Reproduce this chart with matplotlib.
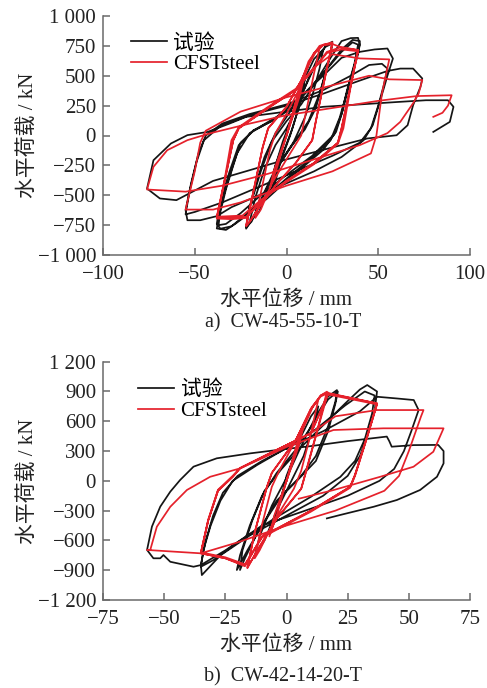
import numpy as np
import matplotlib
matplotlib.use("Agg")
import matplotlib.pyplot as plt

plt.rcParams['font.family'] = ['Liberation Serif', 'Noto Sans CJK SC', 'DejaVu Sans']
plt.rcParams['axes.unicode_minus'] = True

# ---------------- data ----------------
series_names = ['试验', 'CFSTsteel']
captions = ['a)  CW-45-55-10-T', 'b)  CW-42-14-20-T']
xlabel = '水平位移 / mm'
ylabel = '水平荷载 / kN'

a_xticks = [-100, -50, 0, 50, 100]
a_xticklabels = ['\u2212100', '\u221250', '0', '50', '100']
a_yticks = [-1000, -750, -500, -250, 0, 250, 500, 750, 1000]
a_yticklabels = ['\u22121 000', '\u2212750', '\u2212500', '\u2212250', '0', '250', '500', '750', '1 000']

b_xticks = [-75, -50, -25, 0, 25, 50, 75]
b_xticklabels = ['\u221275', '\u221250', '\u221225', '0', '25', '50', '75']
b_yticks = [-1200, -900, -600, -300, 0, 300, 600, 900, 1200]
b_yticklabels = ['\u22121 200', '\u2212900', '\u2212600', '\u2212300', '0', '300', '600', '900', '1 200']

# test curve, specimen a (displacement mm, load kN)
a_test = [
    (0, 0), (4, 200), (8, 420), (10, 480), (8, 300), (3, 50), (-2, -150), (-6, -380), (-9, -470),
    (-7, -300), (-2, -50), (3, 150), (8, 380), (10, 470), (7, 250), (2, 0), (-4, -250), (-9, -470),
    (-6, -250), (0, 0),
    (5, 250), (10, 480), (15, 640), (20, 720), (18, 560), (14, 330), (10, 150), (4, -50), (-4, -250),
    (-10, -460), (-15, -640), (-20, -720), (-17, -520), (-12, -280), (-6, -80), (0, 60),
    (6, 240), (12, 480), (18, 680), (22, 760), (25, 785), (24, 680), (20, 450), (16, 230), (10, 50),
    (2, -100), (-6, -280), (-12, -470), (-18, -680), (-22, -780), (-21, -650), (-17, -420), (-12, -180),
    (-6, 20), (2, 200), (10, 400), (16, 600), (21, 740), (25, 770), (23, 620), (18, 350), (12, 120),
    (4, -60), (-6, -290), (-13, -520), (-19, -720), (-22, -770), (-20, -600), (-14, -300), (-8, -50),
    (0, 120),
    (8, 260), (16, 450), (24, 650), (30, 790), (35, 815), (39, 817), (40, 756), (37, 588), (33, 360),
    (31, 226), (27, 30), (20, -120), (10, -250), (0, -380), (-10, -520), (-20, -650), (-28, -740),
    (-33, -790), (-38, -778), (-37, -700), (-33, -450), (-29, -250), (-25, -60), (-18, 44), (-8, 120),
    (2, 220), (12, 380), (22, 560), (30, 720), (36, 800), (40, 790), (39, 680), (34, 420), (29, 150),
    (24, -40), (12, -210), (0, -360), (-12, -520), (-22, -660), (-30, -760), (-36, -780), (-38, -740),
    (-36, -550), (-31, -300), (-26, -80), (-18, 40), (-5, 160), (8, 320), (20, 520), (30, 700),
    (36, 780), (39, 760), (37, 600), (33, 380), (30, 180), (26, 10), (14, -170), (0, -330),
    (-14, -500), (-25, -650), (-33, -740), (-37, -750), (-36, -600), (-32, -380), (-27, -150),
    (-20, 20), (-6, 140), (8, 330),
    (20, 500), (30, 650), (40, 700), (48, 720), (55, 728), (58, 644), (55, 500), (53, 393), (47, 86),
    (42, -40), (30, -180), (15, -300), (0, -400), (-15, -500), (-30, -600), (-38, -675), (-47, -709),
    (-54, -709), (-55, -625), (-52, -400), (-48, -150), (-44, 0), (-35, 100), (-20, 180), (0, 260),
    (20, 380), (35, 500), (45, 590), (52, 600), (55, 560), (53, 420), (50, 250), (46, 60), (40, -60),
    (25, -170), (5, -300), (-15, -430), (-35, -560), (-50, -640), (-55, -660), (-53, -480),
    (-49, -220), (-45, -40), (-36, 80), (-20, 170), (0, 250),
    (20, 350), (40, 460), (55, 540), (62, 560), (69, 560), (74, 477), (73, 407), (69, 254), (66, 86),
    (60, 2), (44, -25), (25, -100), (0, -200), (-20, -290), (-40, -380), (-55, -500), (-60, -541),
    (-69, -527), (-76, -444), (-72.5, -207), (-63, -67), (-54, 3), (-43, 30), (-31, 100), (-22, 156),
    (0, 200), (20, 240), (40, 260), (60, 280), (76, 295), (88, 295), (91, 240), (89, 114), (80, 30),
]

# model curve, specimen a
a_model = [
    (0, 0), (5, 280), (9, 450), (7, 320), (0, 0), (-5, -260), (-9, -440), (-7, -300), (0, 0),
    (6, 330), (12, 590), (16, 700), (18, 730), (15, 520), (10, 150), (8, 0), (0, -200), (-8, -400),
    (-14, -620), (-17, -690), (-14, -480), (-9, -120), (-6, 20), (0, 180),
    (6, 360), (12, 620), (18, 750), (25, 780), (22, 560), (16, 120), (14, -40), (5, -230), (-5, -400),
    (-14, -580), (-20, -720), (-22, -760), (-19, -540), (-13, -100), (-10, 60), (0, 240), (8, 460),
    (15, 690), (20, 760), (25, 770), (22, 560), (16, 120), (14, -40), (5, -230), (-5, -400),
    (-14, -580), (-20, -720), (-22, -750), (-19, -540), (-13, -100), (-10, 60), (0, 240), (8, 460),
    (15, 690), (20, 755), (25, 765),
    (29, 743), (39, 715), (35, 420), (30, 60), (28, -60), (15, -230), (0, -380), (-12, -520),
    (-22, -690), (-30, -700), (-38, -695), (-34, -400), (-29, -40), (-26, 60), (-10, 230), (5, 380),
    (15, 560), (22, 700), (29, 735), (39, 715), (35, 420), (30, 60), (28, -60), (15, -230), (0, -380),
    (-12, -520), (-22, -680), (-38, -690), (-34, -400), (-29, -40), (-26, 60), (-10, 230), (5, 380),
    (15, 560), (22, 690), (30, 720), (39, 705), (35, 410), (31, 60), (28, -70), (15, -240),
    (0, -390), (-14, -540), (-24, -670), (-38, -680), (-34, -390), (-30, -40), (-26, 70), (-10, 240),
    (5, 390), (15, 570), (25, 680), (40, 645),
    (56, 637), (52, 350), (49, 0), (46, -150), (25, -300), (0, -420), (-25, -560), (-40, -620),
    (-55, -620), (-50, -300), (-47, -60), (-44, 40), (-25, 200), (0, 320), (25, 420), (45, 500),
    (56, 470), (74, 464),
    (72, 350), (69, 270), (62, 114), (55, 20), (40, -80), (15, -200), (-10, -320), (-35, -420),
    (-55, -470), (-76, -452), (-72.5, -262), (-65, -123), (-54, -39), (-42, 17), (-20, 100), (0, 170),
    (29, 240), (50, 290), (71, 330), (90, 337), (88, 250), (85, 190), (80, 156),
]

# test curve, specimen b
b_test = [
    (0, 0), (3, 250), (6, 480), (4, 300), (0, 50), (-3, -250), (-6, -480), (-4, -300), (0, 0),
    (5, 400), (10, 650), (13, 750), (11, 550), (7, 250), (2, 0), (-4, -300), (-9, -600), (-13, -760),
    (-11, -560), (-6, -250), (0, 30),
    (6, 350), (12, 650), (17, 850), (20.6, 914), (20, 800), (17, 550), (12, 250), (6, 50), (-2, -150),
    (-10, -450), (-16, -700), (-20.3, -898), (-19, -750), (-15, -450), (-10, -150), (-4, 80), (4, 320),
    (11, 580), (17, 820), (21, 900), (20, 780), (17, 500), (12, 200), (5, 20), (-4, -200), (-12, -530),
    (-17, -780), (-19, -898), (-18, -700), (-14, -400), (-9, -100), (-2, 120),
    (6, 340), (15, 560), (24, 780), (30, 920), (33, 965), (37, 900), (36, 700), (33, 450), (30, 250),
    (25, 50), (15, -150), (0, -350), (-15, -550), (-27, -750), (-34.6, -949), (-35, -848), (-33, -600),
    (-30, -350), (-26, -120), (-20, 50), (-10, 200), (0, 330), (12, 520), (24, 760), (32, 900),
    (36, 860), (35, 680), (32, 420), (28, 200), (22, 40), (10, -160), (-5, -380), (-20, -620),
    (-30, -800), (-35, -865), (-34, -700), (-31, -450), (-27, -200), (-22, 0), (-12, 160),
    (0, 330), (15, 500), (30, 700), (37, 847), (45, 830), (52, 814), (54, 713), (51, 500), (48, 300),
    (44, 120), (38, 0), (25, -150), (10, -280), (-10, -450), (-25, -700),
    (-35, -848), (-38, -865), (-47.5, -815), (-50.3, -747), (-51.6, -780), (-54.4, -780), (-57, -696),
    (-55, -461), (-51.6, -260), (-47.5, -109), (-43.5, 8), (-38, 143), (-28.5, 227), (-14.8, 277),
    (-4, 310), (10, 350), (25, 400), (41, 446), (42, 400), (43, 344), (52, 360), (62, 362),
    (64.2, 300), (64.2, 176), (61.5, 41), (54.6, -92),
    (45.1, -193), (35.6, -261), (21.9, -344), (16.5, -378),
]

# model curve, specimen b
b_model = [
    (0, 0), (4, 350), (7, 560), (5, 350), (0, 0), (-4, -350), (-7, -560), (-5, -350), (0, 0),
    (6, 480), (11, 760), (13, 820), (10, 480), (6, 100), (3, -80), (-5, -400), (-11, -700),
    (-13, -780), (-10, -440), (-6, -60), (-3, 100),
    (4, 420), (10, 720), (14, 860), (16.5, 898), (13, 550), (8, 100), (6, -80), (-4, -380),
    (-12, -700), (-16, -880), (-13, -520), (-8, -60), (-6, 80), (4, 420), (10, 730), (14, 860),
    (17, 890), (13, 540), (8, 90), (6, -80), (-4, -380), (-12, -710), (-16, -870), (-13, -520),
    (-8, -60), (-6, 80), (4, 420), (10, 720), (14, 850), (17, 885),
    (37, 780), (33, 450), (28, 60), (26, -60), (10, -300), (-10, -560), (-17, -860), (-25, -780),
    (-35, -730), (-32, -400), (-28, -100), (-22, 40), (-19, 126), (-5, 300), (10, 480), (17, 880),
    (37, 780), (33, 450), (28, 60), (26, -60), (10, -300), (-10, -560), (-17, -850), (-25, -780),
    (-35, -730), (-32, -400), (-28, -100), (-22, 40), (-19, 126), (-5, 300), (10, 480), (17, 870),
    (37, 770), (33, 440), (28, 50), (26, -70), (10, -310), (-10, -570), (-17, -840), (-25, -770),
    (-35, -720), (-32, -390), (-28, -90), (-22, 50), (-19, 130), (-5, 300), (10, 480), (20, 650),
    (37, 713),
    (56, 713), (55, 650), (50, 300), (46, 50), (40, -100), (20, -300), (0, -450), (-20, -620),
    (-35, -730), (-57, -696), (-55.7, -697), (-53, -462), (-47.5, -261), (-40.7, -92), (-31.2, 41),
    (-18.9, 126), (0.2, 343), (19.2, 512), (39.6, 529), (64.2, 529), (60, 293), (51.9, 142),
    (38.3, 41), (19.2, -93), (5, -180),
]

# ---------------- drawing ----------------
W, H = 487, 688
fig = plt.figure(figsize=(W / 100, H / 100), dpi=100)

black = '#151515'
red = '#e5212b'
spine_c = '#6a6a6a'
fs = 15

panels = [
    dict(rect=[103 / W, 1 - 255 / H, 367 / W, 239 / H], test=a_test, model=a_model,
         xlim=(-100, 100), ylim=(-1000, 1000), xt=a_xticks, xtl=a_xticklabels,
         yt=a_yticks, ytl=a_yticklabels, cap=captions[0], capy=323, leg=(0.075, 0.925)),
    dict(rect=[103 / W, 1 - 600 / H, 367 / W, 238.3 / H], test=b_test, model=b_model,
         xlim=(-75, 75), ylim=(-1200, 1200), xt=b_xticks, xtl=b_xticklabels,
         yt=b_yticks, ytl=b_yticklabels, cap=captions[1], capy=677, leg=(0.095, 0.92)),
]

for p in panels:
    ax = fig.add_axes(p['rect'])
    t = np.array(p['test'], dtype=float)
    m = np.array(p['model'], dtype=float)
    ax.plot(t[:, 0], t[:, 1], color=black, lw=1.25, label=series_names[0], zorder=2)
    ax.plot(m[:, 0], m[:, 1], color=red, lw=1.25, label=series_names[1], zorder=3)
    ax.set_xlim(*p['xlim'])
    ax.set_ylim(*p['ylim'])
    ax.set_xticks(p['xt'])
    ax.set_xticklabels(p['xtl'])
    ax.set_yticks(p['yt'])
    ax.set_yticklabels(p['ytl'])
    for s in ['top', 'right']:
        ax.spines[s].set_visible(False)
    for s in ['left', 'bottom']:
        ax.spines[s].set_color(spine_c)
        ax.spines[s].set_linewidth(1.1)
    ax.tick_params(direction='in', length=5, width=1.1, color=spine_c,
                   labelsize=fs, labelcolor='#222222')
    ax.tick_params(axis='x', pad=7)
    ax.tick_params(axis='y', pad=5)
    ax.set_xlabel(xlabel, fontsize=fs, labelpad=5, color='#222222')
    ax.set_ylabel(ylabel, fontsize=fs, labelpad=0, color='#222222')
    ax.legend(loc='upper left', bbox_to_anchor=p['leg'], frameon=False,
              fontsize=fs, handlelength=1.75, handletextpad=0.3,
              labelspacing=0.05, borderaxespad=0, borderpad=0)
    fig.text(283 / W, 1 - p['capy'] / H, p['cap'], ha='center', va='center',
             fontsize=14.5, color='#222222')

fig.savefig('out.png', dpi=100)
